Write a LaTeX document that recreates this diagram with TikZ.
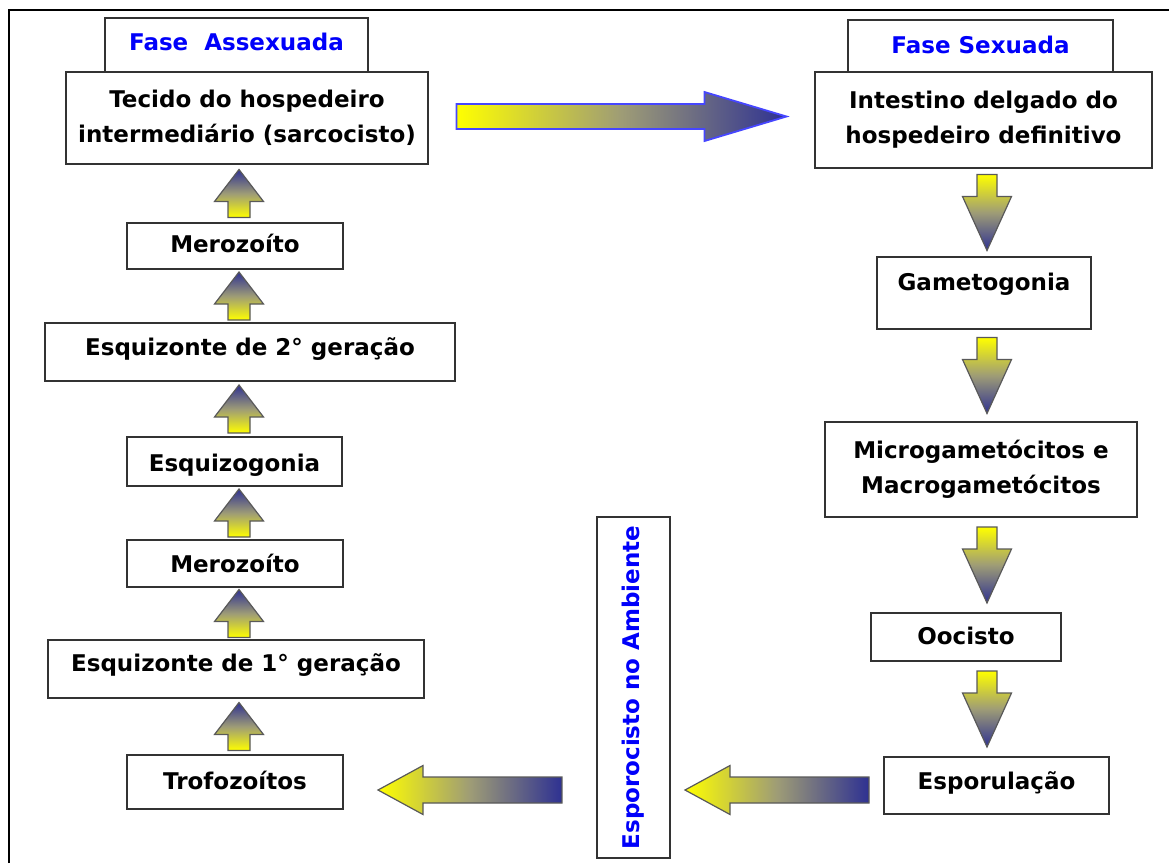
\documentclass[tikz,border=0pt]{standalone}
\usepackage{fontspec}
\usepackage{graphicx}
\setmainfont{DejaVu Sans}
\usetikzlibrary{calc}
\definecolor{arrownavy}{RGB}{46,49,146}
\definecolor{arrowmid}{RGB}{158,156,118}
\definecolor{phaseblue}{RGB}{0,0,250}
\definecolor{bigedge}{RGB}{70,70,255}
\tikzset{
  stage/.style={draw=black!80, line width=1.5pt, fill=white, inner xsep=0pt, inner ysep=0pt,
    font=\bfseries\fontsize{23pt}{35pt}\selectfont},
  phasetxt/.style={text=phaseblue},
  blockedge/.style={draw=black!65, line width=1.2pt, line join=miter}
}
% block arrows: column or row coordinate, from node, to node
\newcommand{\blockup}[3]{%
  \path[blockedge, top color=arrownavy, bottom color=yellow, middle color=arrowmid]
    let \p0=(#1), \p3=($(#2.north)!.5!(#3.south)$) in
    (\x0-11pt,\y3-24pt) -- (\x0-11pt,\y3-8pt) -- (\x0-24.5pt,\y3-8pt) -- (\x0,\y3+24pt)
    -- (\x0+24.5pt,\y3-8pt) -- (\x0+11pt,\y3-8pt) -- (\x0+11pt,\y3-24pt) -- cycle;}
\newcommand{\blockdown}[3]{%
  \path[blockedge, top color=yellow, bottom color=arrownavy, middle color=arrowmid]
    let \p0=(#1), \p3=($(#2.south)!.5!(#3.north)$) in
    (\x0-10pt,\y3+38pt) -- (\x0-10pt,\y3+16pt) -- (\x0-24.5pt,\y3+16pt) -- (\x0,\y3-38pt)
    -- (\x0+24.5pt,\y3+16pt) -- (\x0+10pt,\y3+16pt) -- (\x0+10pt,\y3+38pt) -- cycle;}
\newcommand{\blockleft}[3]{%
  \path[blockedge, left color=yellow, right color=arrownavy, middle color=arrowmid]
    let \p0=(#1), \p3=($(#2.west)!.5!(#3.east)$) in
    (\x3+92pt,\y0+13pt) -- (\x3-47pt,\y0+13pt) -- (\x3-47pt,\y0+24.5pt) -- (\x3-92pt,\y0)
    -- (\x3-47pt,\y0-24.5pt) -- (\x3-47pt,\y0-13pt) -- (\x3+92pt,\y0-13pt) -- cycle;}
\begin{document}
\begin{tikzpicture}[x=1pt,y=-1pt]
\useasboundingbox (0,0) rectangle (1169,863);
\draw[line width=2.5pt] (9,863) -- (9,10) -- (1169,10);
\coordinate (lcol) at (239,0);
\coordinate (rcol) at (987,0);
\coordinate (trow) at (0,116.5);
\coordinate (brow) at (0,790);
% fase assexuada
\node[stage, phasetxt, minimum width=263pt, text height=32pt, text depth=22pt, anchor=base] (faseA) at (236.5,50) {Fase~~Assexuada};
\node[stage, align=center, minimum width=362pt, minimum height=92pt] (tecido) at (247,118) {Tecido do hospedeiro\\intermediário (sarcocisto)};
\node[stage, minimum width=216pt, text height=29pt, text depth=17pt, anchor=base] (merozB) at (235,252) {Merozoíto};
\node[stage, minimum width=410pt, text height=32pt, text depth=26pt, anchor=base] (esq2) at (250,355) {Esquizonte de 2° geração};
\node[stage, minimum width=215pt, text height=34pt, text depth=15pt, anchor=base] (esqgonia) at (234.5,471) {Esquizogonia};
\node[stage, minimum width=216pt, text height=32pt, text depth=15pt, anchor=base] (merozA) at (235,572) {Merozoíto};
\node[stage, minimum width=376pt, text height=31pt, text depth=27pt, anchor=base] (esq1) at (236,671) {Esquizonte de 1° geração};
\node[stage, minimum width=216pt, text height=34pt, text depth=20pt, anchor=base] (trofo) at (235,789) {Trofozoítos};
% fase sexuada
\node[stage, phasetxt, minimum width=265pt, text height=33pt, text depth=19pt, anchor=base] (faseS) at (980.5,53) {Fase Sexuada};
\node[stage, align=center, minimum width=337pt, minimum height=96pt] (intestino) at (983.5,120) {Intestino delgado do\\hospedeiro definitivo};
\node[stage, minimum width=214pt, text height=33pt, text depth=39pt, anchor=base] (gameto) at (984,290) {Gametogonia};
\node[stage, align=center, minimum width=312pt, minimum height=95pt] (microm) at (981,469.5) {Microgametócitos e\\Macrogametócitos};
\node[stage, minimum width=190pt, text height=31pt, text depth=17pt, anchor=base] (oocisto) at (966,644) {Oocisto};
\node[stage, minimum width=225pt, text height=32pt, text depth=25pt, anchor=base] (esporul) at (996.5,789) {Esporulação};
\node[stage, phasetxt, minimum width=73pt, minimum height=341pt] (ambiente) at (633.5,687.5) {\rotatebox{90}{Esporocisto no Ambiente}};
% arrows
\path[draw=bigedge, line width=1.8pt, left color=yellow, right color=arrownavy, middle color=arrowmid]
  let \p0=(trow), \p3=($(tecido.east)!.5!(intestino.west)$) in
  (\x3-165pt,\y0+12.5pt) -- (\x3+83pt,\y0+12.5pt) -- (\x3+83pt,\y0+24.5pt) -- (\x3+165pt,\y0)
  -- (\x3+83pt,\y0-24.5pt) -- (\x3+83pt,\y0-12.5pt) -- (\x3-165pt,\y0-12.5pt) -- cycle;
\blockup{lcol}{trofo}{esq1}
\blockup{lcol}{esq1}{merozA}
\blockup{lcol}{merozA}{esqgonia}
\blockup{lcol}{esqgonia}{esq2}
\blockup{lcol}{esq2}{merozB}
\blockup{lcol}{merozB}{tecido}
\blockdown{rcol}{intestino}{gameto}
\blockdown{rcol}{gameto}{microm}
\blockdown{rcol}{microm}{oocisto}
\blockdown{rcol}{oocisto}{esporul}
\blockleft{brow}{esporul}{ambiente}
\blockleft{brow}{ambiente}{trofo}
\end{tikzpicture}
\end{document}
